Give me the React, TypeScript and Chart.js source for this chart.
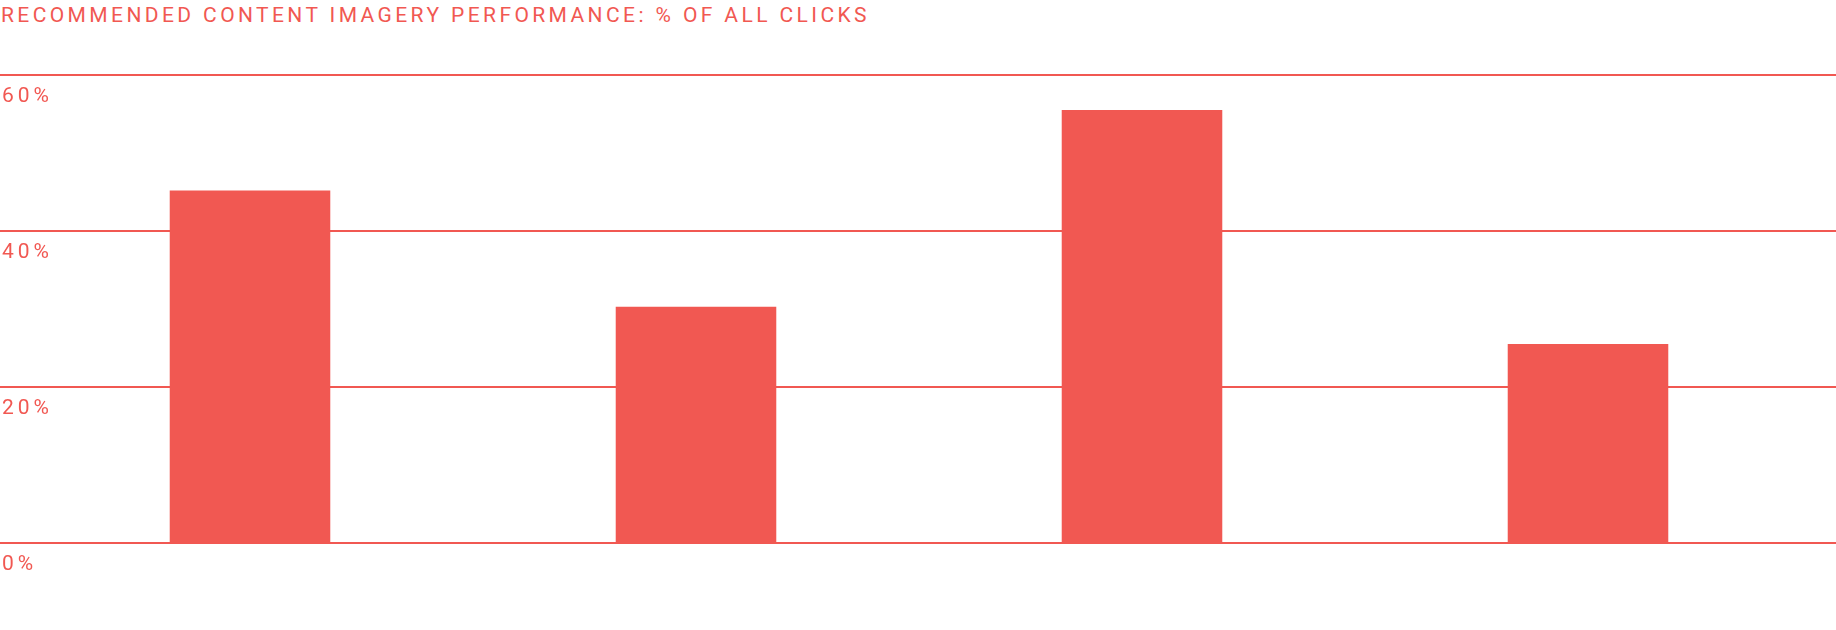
import { useRef, useEffect } from 'react'
import { Chart, registerables } from 'chart.js'

Chart.register(...registerables)

const RED = '#F15852'

// x labels are not shown in the chart, so these are placeholder names
const categories = ['Image type 1', 'Image type 2', 'Image type 3', 'Image type 4']
const clickShare = [45.2, 30.3, 55.5, 25.5]
const yTicks = [0, 20, 40, 60]

const titleText = 'RECOMMENDED CONTENT IMAGERY PERFORMANCE: % OF ALL CLICKS'

// ticks are spaced out like the title, canvas text needs this set by hand
const letterSpacingPlugin = {
  id: 'tickLetterSpacing',
  beforeDraw(chart: Chart) {
    ;(chart.ctx as any).letterSpacing = '4px'
  },
}

export default function App() {
  const chartRef = useRef<HTMLCanvasElement>(null)
  const chartInstance = useRef<Chart | null>(null)

  useEffect(() => {
    if (!chartRef.current) return
    if (chartInstance.current) chartInstance.current.destroy()

    const ctx = chartRef.current.getContext('2d')
    if (!ctx) return

    chartInstance.current = new Chart(ctx, {
      type: 'bar',
      data: {
        labels: categories,
        datasets: [
          {
            label: '% of all clicks',
            data: clickShare,
            backgroundColor: RED,
            borderWidth: 0,
            categoryPercentage: 0.4,
            barPercentage: 0.9,
          },
        ],
      },
      options: {
        responsive: true,
        maintainAspectRatio: false,
        animation: false,
        layout: {
          padding: { top: 75, bottom: 87, left: 0, right: 0 },
        },
        plugins: {
          legend: { display: false },
          tooltip: { enabled: false },
        },
        scales: {
          x: {
            display: false,
          },
          y: {
            position: 'left',
            min: 0,
            max: 60,
            afterBuildTicks: (axis: any) => {
              axis.ticks = yTicks.map((v) => ({ value: v }))
            },
            afterFit: (axis: any) => {
              axis.width = 27
            },
            border: { display: false },
            grid: {
              color: RED,
              lineWidth: 2,
              drawTicks: true,
              tickLength: 51,
              tickColor: RED,
              tickWidth: 2,
            },
            ticks: {
              mirror: true,
              padding: -25,
              labelOffset: 22,
              color: RED,
              font: { family: 'Roboto', size: 21 },
              callback: (v: any) => v + '%',
            },
          },
          y2: {
            position: 'right',
            min: 0,
            max: 60,
            afterBuildTicks: (axis: any) => {
              axis.ticks = yTicks.map((v) => ({ value: v }))
            },
            afterFit: (axis: any) => {
              axis.width = 25
            },
            border: { display: false },
            grid: {
              color: RED,
              lineWidth: 2,
              drawTicks: true,
              tickLength: 30,
              tickColor: RED,
              tickWidth: 2,
            },
            ticks: { display: false },
          },
        },
      },
      plugins: [letterSpacingPlugin],
    })

    return () => {
      if (chartInstance.current) {
        chartInstance.current.destroy()
        chartInstance.current = null
      }
    }
  }, [])

  return (
    <div
      style={{
        position: 'absolute',
        top: 0,
        left: 0,
        width: '1836px',
        height: '630px',
        background: '#fff',
      }}
    >
      <div
        style={{
          position: 'absolute',
          top: '3px',
          left: '1px',
          fontFamily: 'Roboto',
          fontSize: '21px',
          letterSpacing: '3.4px',
          color: RED,
          whiteSpace: 'nowrap',
        }}
      >
        {titleText}
      </div>
      <div style={{ position: 'absolute', inset: 0 }}>
        <canvas ref={chartRef} />
      </div>
    </div>
  )
}
